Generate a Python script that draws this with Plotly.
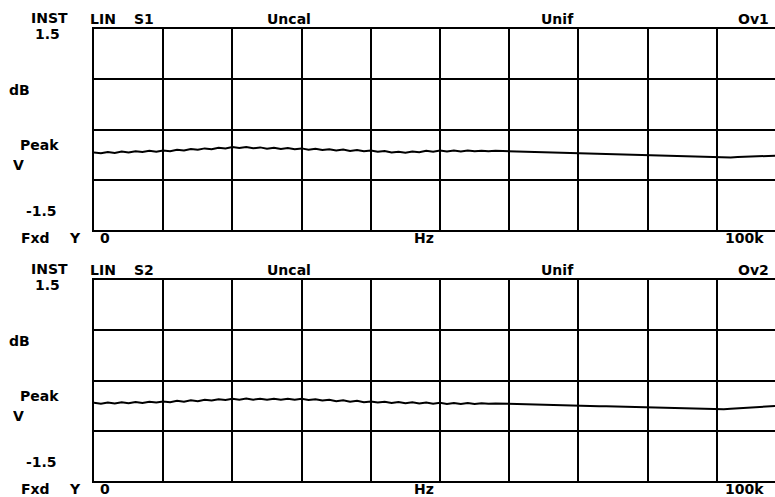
import plotly.graph_objects as go

# ---------------- data ----------------
freq_hz = list(range(0, 99000, 1000)) + [98400]

trace_s1 = [
    -0.342, -0.355, -0.336, -0.349, -0.330, -0.343, -0.324, -0.337, -0.318, -0.331,
    -0.312, -0.323, -0.302, -0.313, -0.292, -0.303, -0.282, -0.293, -0.272, -0.283,
    -0.262, -0.276, -0.262, -0.280, -0.267, -0.286, -0.272, -0.291, -0.277, -0.296,
    -0.282, -0.301, -0.288, -0.307, -0.294, -0.313, -0.300, -0.319, -0.306, -0.325,
    -0.312, -0.333, -0.322, -0.343, -0.332, -0.346, -0.327, -0.338, -0.318, -0.331,
    -0.312, -0.328, -0.312, -0.328, -0.313, -0.326, -0.316, -0.324, -0.318, -0.321,
    -0.320, -0.324, -0.328, -0.332, -0.336, -0.340, -0.344, -0.348, -0.352, -0.356,
    -0.360, -0.362, -0.364, -0.366, -0.368, -0.370, -0.372, -0.374, -0.376, -0.378,
    -0.380, -0.384, -0.388, -0.392, -0.396, -0.400, -0.404, -0.408, -0.412, -0.416,
    -0.420, -0.421, -0.418, -0.412, -0.406, -0.401, -0.397, -0.394, -0.391, -0.390,
]

trace_s2 = [
    -0.332, -0.346, -0.328, -0.342, -0.324, -0.338, -0.320, -0.334, -0.316, -0.330,
    -0.312, -0.324, -0.304, -0.316, -0.296, -0.308, -0.288, -0.300, -0.280, -0.292,
    -0.272, -0.286, -0.270, -0.286, -0.271, -0.287, -0.272, -0.288, -0.272, -0.288,
    -0.272, -0.292, -0.280, -0.300, -0.288, -0.308, -0.296, -0.316, -0.304, -0.324,
    -0.312, -0.330, -0.316, -0.334, -0.320, -0.338, -0.324, -0.342, -0.328, -0.346,
    -0.332, -0.349, -0.335, -0.349, -0.337, -0.349, -0.340, -0.348, -0.343, -0.345,
    -0.345, -0.348, -0.351, -0.354, -0.357, -0.360, -0.364, -0.367, -0.370, -0.373,
    -0.376, -0.378, -0.381, -0.383, -0.386, -0.388, -0.390, -0.393, -0.395, -0.398,
    -0.400, -0.403, -0.406, -0.409, -0.412, -0.415, -0.418, -0.421, -0.424, -0.427,
    -0.430, -0.428, -0.422, -0.414, -0.406, -0.398, -0.391, -0.386, -0.382, -0.380,
]

x_range = [0, 98400]
y_range = [-1.5, 1.5]

panel1_labels = {"mode": ["INST", "LIN", "S1"], "cal": "Uncal", "win": "Unif", "ov": "Ov1"}
panel2_labels = {"mode": ["INST", "LIN", "S2"], "cal": "Uncal", "win": "Unif", "ov": "Ov2"}
y_top_label = "1.5"
y_bot_label = "-1.5"
y_unit_labels = ["dB", "Peak", "V"]
x_left_label = "0"
x_mid_label = "Hz"
x_right_label = "100k"
fixed_label = ["Fxd", "Y"]

# ---------------- layout helpers ----------------
W, H = 775, 497
FONT = dict(family="DejaVu Sans", size=14, color="black", weight="bold")


def px(x):
    return x / W


def py(y):
    return 1 - y / H


fig = go.Figure()
fig.add_trace(go.Scatter(x=freq_hz, y=trace_s1, mode="lines",
                         line=dict(color="black", width=2), xaxis="x", yaxis="y",
                         showlegend=False, hoverinfo="skip"))
fig.add_trace(go.Scatter(x=freq_hz, y=trace_s2, mode="lines",
                         line=dict(color="black", width=2), xaxis="x2", yaxis="y2",
                         showlegend=False, hoverinfo="skip"))

xa = dict(range=x_range, showgrid=True, gridcolor="black", gridwidth=2,
          tick0=0, dtick=10000, showticklabels=False, ticks="", zeroline=False,
          showline=True, linecolor="black", linewidth=2, mirror=True,
          domain=[px(94), 1], fixedrange=True)
ya = dict(range=y_range, showgrid=True, gridcolor="black", gridwidth=2,
          tick0=-1.5, dtick=0.75, showticklabels=False, ticks="",
          zeroline=True, zerolinecolor="black", zerolinewidth=2,
          showline=True, linecolor="black", linewidth=2, mirror=False, fixedrange=True)

annotations = []


def label(text, x, y, anchor="center"):
    annotations.append(dict(text=text, x=px(x), y=py(y), xref="paper", yref="paper",
                            showarrow=False, xanchor=anchor, yanchor="middle",
                            height=14, valign="middle", borderpad=0,
                            font=FONT))


def panel_text(labels, dy):
    label(labels["mode"][0], 49, 18 + dy)
    label(labels["mode"][1], 103, 19 + dy)
    label(labels["mode"][2], 144, 19 + dy)
    label(labels["cal"], 289, 19 + dy)
    label(labels["win"], 557, 19 + dy)
    label(labels["ov"], 753, 19 + dy)
    label(y_top_label, 47, 34 + dy)
    label(y_unit_labels[0], 19, 90 + dy)
    label(y_unit_labels[1], 39, 145 + dy)
    label(y_unit_labels[2], 18, 165 + dy)
    label(y_bot_label, 41, 211 + dy)
    label(fixed_label[0], 35, 238 + dy)
    label(fixed_label[1], 75, 238 + dy)
    label(x_left_label, 105, 238 + dy)
    label(x_mid_label, 424, 238 + dy)
    label(x_right_label, 744, 238 + dy)


panel_text(panel1_labels, 0)
panel_text(panel2_labels, 251)

fig.update_layout(
    width=W, height=H,
    margin=dict(l=0, r=0, t=0, b=0, pad=0),
    paper_bgcolor="white", plot_bgcolor="white",
    xaxis=xa,
    yaxis=dict(ya, domain=[py(230), py(29)], anchor="x"),
    xaxis2=dict(xa, anchor="y2"),
    yaxis2=dict(ya, domain=[py(481), py(280)], anchor="x2"),
    annotations=annotations,
    showlegend=False,
)

fig.write_html("out.html", config={"displayModeBar": False},
               post_script="document.body.style.margin='0';document.body.style.overflow='hidden';")
